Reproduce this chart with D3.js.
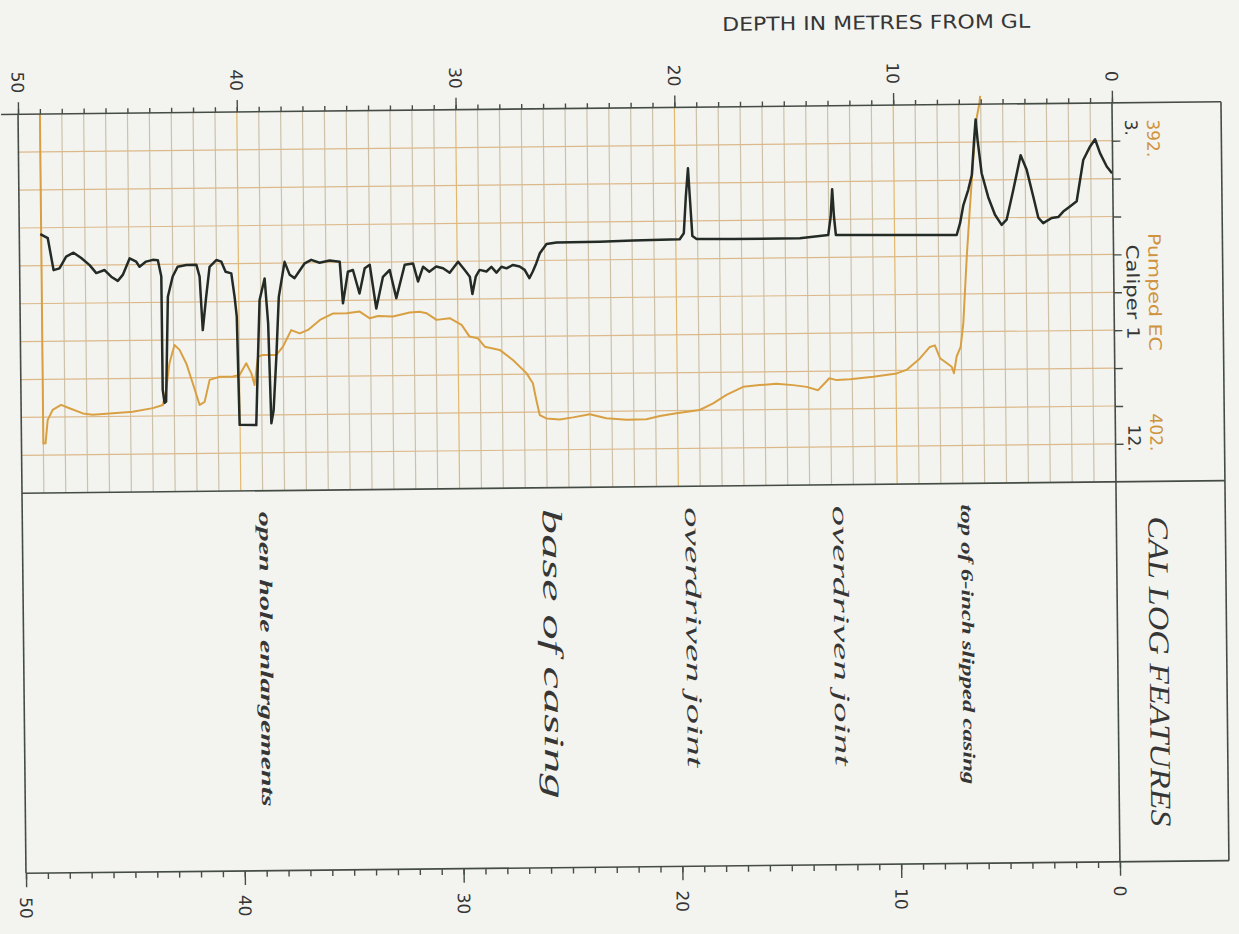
<!DOCTYPE html>
<html>
<head>
<meta charset="utf-8">
<script src="https://cdn.jsdelivr.net/npm/d3@7"></script>
<style>
  html, body { margin: 0; padding: 0; background: #f3f4ef; }
  svg { display: block; }
</style>
</head>
<body>
<svg id="chart" width="1239" height="934"></svg>
<script>
// ---- data -----------------------------------------------------------------
// depth axis (metres below ground level)
const depthDomain = [0, 50];
const depthMajorTicks = [0, 10, 20, 30, 40, 50];
const depthMinorTicks = d3.range(0, 51, 1);

// value scales of the two logs
const caliperRange = [3, 12];
const ecRange = [392, 402];
const ecGridValues = [393, 394, 395, 396, 397, 398, 399, 400, 401];

// Caliper 1 log: [depth m, caliper]
const caliperLog = [
  [49.04,5.85],[48.70,5.95],[48.45,6.71],[48.18,6.67],[47.87,6.39],[47.53,6.30],
  [47.18,6.43],[46.80,6.60],[46.50,6.79],[46.12,6.72],[45.82,6.88],[45.52,6.98],
  [45.29,6.84],[44.97,6.45],[44.67,6.53],[44.52,6.65],[44.22,6.53],[43.91,6.49],
  [43.68,6.50],[43.53,6.89],[43.52,9.58],[43.44,9.89],[43.37,9.86],[43.24,7.37],
  [43.01,6.89],[42.78,6.66],[42.38,6.62],[41.92,6.62],[41.78,6.90],[41.66,8.17],
  [41.49,7.38],[41.32,6.67],[41.01,6.51],[40.78,6.55],[40.59,6.79],[40.33,6.83],
  [40.19,7.39],[40.10,7.86],[40.02,10.43],[39.26,10.44],[39.15,8.82],[39.05,7.47],
  [38.81,6.96],[38.67,8.02],[38.57,10.40],[38.46,10.09],[38.31,8.82],[38.17,7.40],
  [37.89,6.57],[37.66,6.88],[37.44,6.96],[37.28,6.84],[36.97,6.61],[36.67,6.53],
  [36.29,6.60],[35.83,6.55],[35.37,6.58],[35.24,7.57],[35.00,6.82],[34.77,6.78],
  [34.48,7.34],[34.23,6.74],[34.00,6.66],[33.72,7.70],[33.40,6.95],[33.09,6.79],
  [32.80,7.46],[32.40,6.67],[32.02,6.64],[31.80,7.07],[31.56,6.72],[31.28,6.84],
  [30.96,6.72],[30.65,6.76],[30.35,6.87],[29.96,6.61],[29.66,6.81],[29.43,6.97],
  [29.32,7.38],[29.16,6.97],[28.98,6.81],[28.67,6.85],[28.44,6.74],[28.21,6.88],
  [27.98,6.74],[27.75,6.78],[27.45,6.70],[27.15,6.74],[26.92,6.82],[26.71,7.02],
  [26.55,6.86],[26.39,6.67],[26.22,6.43],[25.91,6.21],[25.45,6.18],[23.49,6.17],
  [21.95,6.15],[19.82,6.13],[19.63,5.99],[19.52,5.12],[19.41,4.45],[19.34,5.12],
  [19.24,6.06],[19.05,6.13],[17.38,6.14],[14.33,6.14],[13.03,6.07],[12.91,5.63],
  [12.83,4.98],[12.76,5.63],[12.68,6.07],[11.28,6.08],[8.99,6.09],[7.16,6.10],
  [7.00,5.82],[6.84,5.39],[6.61,5.03],[6.44,4.68],[6.32,3.85],[6.24,3.36],
  [6.16,3.85],[5.99,4.64],[5.70,5.21],[5.40,5.63],[5.10,5.87],[4.87,5.75],
  [4.55,5.04],[4.20,4.22],[3.93,4.57],[3.64,5.21],[3.42,5.71],[3.20,5.84],
  [2.81,5.72],[2.51,5.70],[2.28,5.57],[1.97,5.45],[1.66,5.33],[1.34,4.35],
  [1.02,4.03],[0.79,3.86],[0.57,4.19],[0.27,4.51],[0.03,4.67]
];

// Pumped EC log: [depth m, EC]
const pumpedEcLog = [
  [49.00,392.00],[49.00,400.69],[48.90,400.69],[48.79,400.07],[48.56,399.81],
  [48.17,399.68],[47.79,399.77],[47.18,399.91],[46.73,399.95],[45.96,399.92],
  [44.90,399.88],[43.98,399.79],[43.52,399.71],[43.36,399.31],[43.20,398.61],
  [42.96,398.13],[42.73,398.26],[42.43,398.62],[42.14,399.15],[41.84,399.72],
  [41.61,399.64],[41.37,399.06],[40.91,398.98],[40.31,398.98],[40.00,398.94],
  [39.69,398.63],[39.46,398.90],[39.32,399.21],[39.15,398.46],[38.93,398.42],
  [38.31,398.42],[38.01,398.21],[37.62,397.77],[37.23,397.86],[36.85,397.77],
  [36.30,397.51],[35.69,397.34],[35.08,397.34],[34.48,397.30],[34.02,397.48],
  [33.64,397.42],[32.96,397.44],[32.20,397.34],[31.74,397.32],[31.43,397.36],
  [30.97,397.54],[30.37,397.50],[29.83,397.68],[29.47,397.99],[29.09,398.04],
  [28.78,398.26],[28.10,398.35],[27.50,398.62],[26.89,398.97],[26.60,399.24],
  [26.45,399.68],[26.30,400.08],[26.00,400.17],[25.39,400.20],[24.78,400.15],
  [24.01,400.07],[23.26,400.18],[22.34,400.23],[21.43,400.22],[20.81,400.14],
  [20.05,400.07],[18.99,399.99],[18.37,399.82],[17.76,399.60],[16.99,399.39],
  [16.23,399.35],[15.47,399.32],[14.71,399.36],[14.09,399.41],[13.57,399.50],
  [13.33,399.36],[13.05,399.19],[12.72,399.24],[12.11,399.22],[11.04,399.16],
  [9.97,399.08],[9.52,398.99],[8.90,398.69],[8.44,398.39],[8.21,398.35],
  [7.98,398.69],[7.68,398.82],[7.45,398.92],[7.35,399.09],[7.22,398.65],
  [7.03,398.39],[6.90,397.78],[6.71,396.02],[6.54,394.70],[6.36,393.39],
  [6.18,392.33],[6.06,391.98],[6.02,391.78]
];

// interpreted features along the hole
const featureDepths = [6.9, 12.7, 19.45, 25.9, 38.97];
const featureLabels = [
  "top of 6-inch slipped casing",
  "overdriven joint",
  "overdriven joint",
  "base of casing",
  "open hole enlargements"
];

const titleText = "DEPTH IN METRES FROM GL";
const panelTitle = "CAL LOG FEATURES";
const ecName = "Pumped EC";
const caliperName = "Caliper 1";

// ---- layout & styles ------------------------------------------------------
const W = 1239, H = 934;
const F = { left: 22, zero: 1116, right: 1225, top: 108, mid: 487, bottom: 867 };
const INK = "#454c46";
const TEXT = "#363636";
const ORANGE = "#d9a043";
const ORANGE_TEXT = "#cf9340";
const CAL_INK = "#242b26";
const SANS = "'DejaVu Sans', 'Liberation Sans', sans-serif";
const SERIF = "'Liberation Serif', 'DejaVu Serif', serif";
const COL_EC = 1157, COL_CAL = 1135;

const featureStyles = [
  { size: 17, weight: "bold",   len: 280 },
  { size: 22, weight: "normal", len: 260 },
  { size: 22, weight: "normal", len: 260 },
  { size: 28, weight: "normal", len: 290 },
  { size: 18, weight: "bold",   len: 295 }
];

const x = d3.scaleLinear().domain(depthDomain).range([F.zero, F.left]);
const yCal = d3.scaleLinear().domain(caliperRange).range([F.top, F.mid]);
const yEc = d3.scaleLinear().domain(ecRange).range([F.top, F.mid]);

const svg = d3.select("#chart");
svg.append("rect").attr("width", W).attr("height", H).attr("fill", "#f3f4ef");

// the whole sheet sits very slightly tilted
const g = svg.append("g").attr("transform", "rotate(-0.6 620 490)");

// ---- grid -----------------------------------------------------------------
const grid = g.append("g");
grid.selectAll("line.v")
  .data(depthMinorTicks.filter(d => d > 0 && d < 50))
  .join("line")
  .attr("x1", d => x(d)).attr("x2", d => x(d))
  .attr("y1", F.top).attr("y2", F.mid)
  .attr("stroke", d => d % 10 === 0 ? "#e2b86e" : "#cdc1aa")
  .attr("stroke-width", 1.2);

grid.selectAll("line.h")
  .data(ecGridValues)
  .join("line")
  .attr("x1", F.left).attr("x2", F.zero)
  .attr("y1", d => yEc(d)).attr("y2", d => yEc(d))
  .attr("stroke", "#dcb98b")
  .attr("stroke-width", 1.2);

// ---- logs -----------------------------------------------------------------
g.append("path")
  .datum(pumpedEcLog)
  .attr("fill", "none")
  .attr("stroke", ORANGE)
  .attr("stroke-width", 2)
  .attr("stroke-linejoin", "round")
  .attr("d", d3.line().x(d => x(d[0])).y(d => yEc(d[1])));

g.append("path")
  .datum(caliperLog)
  .attr("fill", "none")
  .attr("stroke", CAL_INK)
  .attr("stroke-width", 2.5)
  .attr("stroke-linejoin", "round")
  .attr("d", d3.line().x(d => x(d[0])).y(d => yCal(d[1])));

// ---- frame ----------------------------------------------------------------
const frame = g.append("g").attr("stroke", INK).attr("stroke-width", 1.6).attr("fill", "none");
const seg = (x1, y1, x2, y2) => frame.append("line").attr("x1", x1).attr("y1", y1).attr("x2", x2).attr("y2", y2);
seg(5, F.top, F.right, F.top);
seg(F.left, F.top, F.left, F.bottom);
seg(F.left, F.mid, F.right, F.mid);
seg(F.left, F.bottom, F.right, F.bottom);
seg(F.right, F.top, F.right, F.bottom);
seg(F.zero, F.top, F.zero, F.bottom);

// ---- depth axes -----------------------------------------------------------
function styleAxis(sel) {
  sel.select(".domain").remove();
  sel.selectAll(".tick line").attr("stroke", INK).attr("stroke-width", 1.4);
  sel.selectAll(".tick text").remove();
}
g.append("g").attr("transform", `translate(0,${F.top})`)
  .call(d3.axisTop(x).tickValues(depthMinorTicks).tickSize(5).tickFormat(""))
  .call(styleAxis);
g.append("g").attr("transform", `translate(0,${F.top})`)
  .call(d3.axisTop(x).tickValues(depthMajorTicks).tickSize(12).tickFormat(""))
  .call(styleAxis);
g.append("g").attr("transform", `translate(0,${F.bottom})`)
  .call(d3.axisBottom(x).tickValues(depthMinorTicks).tickSize(6).tickFormat(""))
  .call(styleAxis);
g.append("g").attr("transform", `translate(0,${F.bottom})`)
  .call(d3.axisBottom(x).tickValues(depthMajorTicks).tickSize(14).tickFormat(""))
  .call(styleAxis);

// value ticks along the zero-depth line
g.append("g").attr("transform", `translate(${F.zero},0)`)
  .call(d3.axisRight(yEc).tickValues(ecGridValues).tickSize(8).tickFormat(""))
  .call(styleAxis);

// rotated depth labels
const labelFont = sel => sel.attr("font-family", SANS).attr("font-size", 17).attr("fill", TEXT);
g.selectAll("text.depthTop")
  .data(depthMajorTicks)
  .join("text")
  .attr("transform", d => `translate(${x(d)},87) rotate(90)`)
  .attr("text-anchor", "end")
  .attr("dy", "0.36em")
  .call(labelFont)
  .text(d => d3.format("d")(d));
g.selectAll("text.depthBottom")
  .data(depthMajorTicks)
  .join("text")
  .attr("transform", d => `translate(${x(d)},891) rotate(90)`)
  .attr("text-anchor", "start")
  .attr("dy", "0.36em")
  .call(labelFont)
  .text(d => d3.format("d")(d));

g.append("text")
  .attr("x", 881).attr("y", 32)
  .attr("text-anchor", "middle")
  .attr("font-family", SANS).attr("font-size", 19).attr("fill", TEXT)
  .attr("textLength", 308).attr("lengthAdjust", "spacingAndGlyphs")
  .text(titleText);

// ---- scale captions in the right column ----------------------------------
function vText(xc, y, anchor, str, color, len) {
  const t = g.append("text")
    .attr("transform", `translate(${xc},${y}) rotate(90)`)
    .attr("text-anchor", anchor)
    .attr("dy", "0.36em")
    .attr("font-family", SANS).attr("font-size", 17).attr("fill", color)
    .text(str);
  if (len) t.attr("textLength", len).attr("lengthAdjust", "spacingAndGlyphs");
  return t;
}
const fmtEnd = v => d3.format("d")(v) + ".";
vText(COL_EC, F.top + 17, "start", fmtEnd(ecRange[0]), ORANGE_TEXT);
vText(COL_CAL, F.top + 17, "start", fmtEnd(caliperRange[0]), TEXT);
vText(COL_EC, F.mid - 30, "end", fmtEnd(ecRange[1]), ORANGE_TEXT);
vText(COL_CAL, F.mid - 30, "end", fmtEnd(caliperRange[1]), TEXT);
vText(COL_EC, (F.top + F.mid) / 2, "middle", ecName, ORANGE_TEXT, 118);
vText(COL_CAL, (F.top + F.mid) / 2, "middle", caliperName, TEXT, 95);

// ---- feature panel --------------------------------------------------------
g.append("text")
  .attr("transform", `translate(1158,${(F.mid + F.bottom) / 2}) rotate(90)`)
  .attr("text-anchor", "middle")
  .attr("dy", "0.35em")
  .attr("font-family", SERIF).attr("font-style", "italic")
  .attr("font-size", 29).attr("fill", TEXT)
  .attr("textLength", 310).attr("lengthAdjust", "spacingAndGlyphs")
  .text(panelTitle);

g.selectAll("text.feature")
  .data(featureDepths)
  .join("text")
  .attr("transform", d => `translate(${x(d)},508) rotate(90)`)
  .attr("text-anchor", "start")
  .attr("dy", "0.25em")
  .attr("font-family", SERIF).attr("font-style", "italic")
  .attr("font-weight", (d, i) => featureStyles[i].weight)
  .attr("font-size", (d, i) => featureStyles[i].size)
  .attr("fill", TEXT)
  .attr("textLength", (d, i) => featureStyles[i].len)
  .attr("lengthAdjust", "spacingAndGlyphs")
  .text((d, i) => featureLabels[i]);
</script>
</body>
</html>
